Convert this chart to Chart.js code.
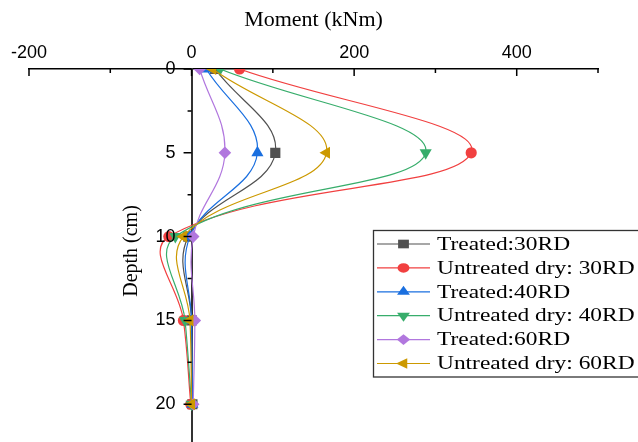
<!DOCTYPE html>
<html>
<head>
<meta charset="utf-8">
<script src="https://cdn.jsdelivr.net/npm/chart.js@4/dist/chart.umd.min.js"></script>
<style>
  html, body { margin: 0; padding: 0; background: #fff; overflow: hidden; }
  #wrap { width: 638px; height: 442px; overflow: hidden; }
</style>
</head>
<body>
<div id="wrap"><canvas id="chart" width="638" height="450"></canvas></div>
<script>
// depth (cm) at which the moment was recorded
const depths = [0, 5, 10, 15, 20];

// bending moment (kNm) per depth
const treated30 = [29, 103, -4, 0, 1];
const untreated30 = [59, 344, -28, -10, -1];
const treated40 = [18, 81, -2, 0, 1];
const untreated40 = [35, 288, -20, -8, 0];
const treated60 = [10, 41, 2, 4, 2];
const untreated60 = [26, 166, -10, -2, 0];

const seriesNames = ['Treated:30RD', 'Untreated dry: 30RD', 'Treated:40RD',
  'Untreated dry: 40RD', 'Treated:60RD', 'Untreated dry: 60RD'];
const seriesValues = [treated30, untreated30, treated40, untreated40, treated60, untreated60];
const seriesColors = ['#515151', '#F14040', '#1A6FDF', '#37AD6B', '#B177DE', '#CC9900'];
const seriesMarkers = ['rect', 'circle', 'triangle', 'triangle', 'rectRot', 'triangle'];
const markerTurn = [0, 0, 0, 180, 0, -90];
const markerSize = [7.2, 5.6, 7, 7, 6.3, 7];

// axis ticks
const xTicks = [-200, -100, 0, 100, 200, 300, 400, 500];
const xLabels = [-200, 0, 200, 400];
const yTicks = [0, 2.5, 5, 7.5, 10, 12.5, 15, 17.5, 20];
const yLabels = [0, 5, 10, 15, 20];

const datasets = seriesNames.map((name, i) => ({
  label: name,
  data: depths.map((d, j) => ({ x: seriesValues[i][j], y: d })),
  borderColor: seriesColors[i],
  backgroundColor: seriesColors[i],
  borderWidth: 1.2,
  tension: 0.4,
  pointStyle: seriesMarkers[i],
  pointRotation: markerTurn[i],
  pointRadius: markerSize[i],
  pointBorderWidth: 0,
  order: -i
}));

// inward ticks on the top axis, outward ticks and labels on the depth axis
const tickMarks = {
  id: 'tickMarks',
  afterDraw(chart) {
    const { ctx, chartArea, scales: { x, y } } = chart;
    ctx.save();
    ctx.strokeStyle = '#000';
    ctx.lineWidth = 1.5;
    ctx.beginPath();
    xTicks.forEach(v => {
      const px = x.getPixelForValue(v);
      const len = xLabels.includes(v) ? 7 : 4;
      ctx.moveTo(px, chartArea.top);
      ctx.lineTo(px, chartArea.top + len);
    });
    const x0 = x.getPixelForValue(0);
    yTicks.forEach(v => {
      const py = y.getPixelForValue(v);
      const len = yLabels.includes(v) ? 8 : 4;
      ctx.moveTo(x0 - len, py);
      ctx.lineTo(x0, py);
    });
    ctx.stroke();

    ctx.fillStyle = '#000';
    ctx.font = '18px "Liberation Sans"';
    ctx.textAlign = 'right';
    ctx.textBaseline = 'middle';
    yLabels.forEach(v => ctx.fillText(String(v), x0 - 16, y.getPixelForValue(v)));

    // depth axis title, reading upward
    ctx.translate(131.5, 251);
    ctx.rotate(-Math.PI / 2);
    ctx.font = '20px "Liberation Serif"';
    ctx.textAlign = 'center';
    ctx.fillText('Depth (cm)', 0, 0);
    ctx.restore();
  }
};

// boxed legend inside the plot
const boxLegend = {
  id: 'boxLegend',
  afterDraw(chart) {
    const ctx = chart.ctx;
    const left = 373.5, top = 230.5, bottom = 377;
    ctx.save();
    ctx.fillStyle = '#fff';
    ctx.fillRect(left, top, 300, bottom - top);
    ctx.strokeStyle = '#333';
    ctx.lineWidth = 1.3;
    ctx.strokeRect(left, top, 300, bottom - top);
    seriesNames.forEach((name, i) => {
      const ry = 244 + i * 23.9;
      ctx.strokeStyle = seriesColors[i];
      ctx.lineWidth = 1.2;
      ctx.beginPath();
      ctx.moveTo(377, ry);
      ctx.lineTo(430, ry);
      ctx.stroke();
      ctx.save();
      ctx.translate(403.5, ry);
      ctx.scale(1.25, 1);
      ctx.fillStyle = seriesColors[i];
      Chart.helpers.drawPoint(ctx, {
        pointStyle: seriesMarkers[i],
        rotation: markerTurn[i],
        radius: markerSize[i] * 0.85,
        borderWidth: 0
      }, 0, 0);
      ctx.restore();
      ctx.save();
      ctx.translate(437, ry);
      ctx.scale(1.3, 1);
      ctx.fillStyle = '#000';
      ctx.font = '18px "Liberation Serif"';
      ctx.textBaseline = 'middle';
      ctx.fillText(name, 0, 1);
      ctx.restore();
    });
    ctx.restore();
  }
};

new Chart(document.getElementById('chart'), {
  type: 'line',
  data: { datasets },
  options: {
    responsive: false,
    animation: false,
    indexAxis: 'y',
    layout: { padding: { left: 29, right: 40, top: 0, bottom: 0 } },
    plugins: { legend: { display: false }, tooltip: { enabled: false } },
    scales: {
      x: {
        type: 'linear',
        position: 'top',
        min: -200,
        max: 500,
        afterBuildTicks: s => { s.ticks = xTicks.map(v => ({ value: v })); },
        afterFit: s => { s.height = 69; s.paddingLeft = 0; s.paddingRight = 0; },
        ticks: {
          autoSkip: false,
          maxRotation: 0,
          padding: 5,
          color: '#000',
          font: { family: 'Liberation Sans', size: 18 },
          callback: v => xLabels.includes(v) ? String(v) : ''
        },
        grid: { drawOnChartArea: false, drawTicks: false },
        border: { display: true, color: '#000', width: 1.5 },
        title: {
          display: true,
          text: 'Moment (kNm)',
          color: '#000',
          font: { family: 'Liberation Serif', size: 22 },
          padding: { top: 7, bottom: 0 }
        }
      },
      y: {
        type: 'linear',
        position: { x: 0 },
        reverse: true,
        min: 0,
        max: 22.3,
        afterBuildTicks: s => { s.ticks = yTicks.map(v => ({ value: v })); },
        afterFit: s => { s.paddingTop = 0; s.paddingBottom = 0; },
        ticks: { display: false },
        grid: { drawOnChartArea: false, drawTicks: false },
        border: { display: true, color: '#333', width: 2 }
      }
    }
  },
  plugins: [tickMarks, boxLegend]
});
</script>
</body>
</html>
